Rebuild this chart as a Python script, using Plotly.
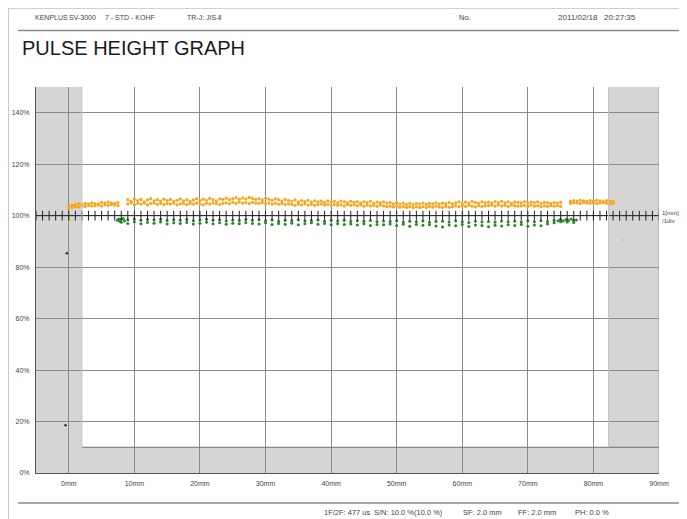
import plotly.graph_objects as go

# ---------------- data ----------------
x_tick_vals = [0, 10, 20, 30, 40, 50, 60, 70, 80, 90]
x_tick_text = ["0mm", "10mm", "20mm", "30mm", "40mm", "50mm", "60mm", "70mm", "80mm", "90mm"]
y_tick_vals = [0, 20, 40, 60, 80, 100, 120, 140]
y_tick_text = ["0%", "20%", "40%", "60%", "80%", "100%", "120%", "140%"]

# orange (1st pulse) segment A: 0.0 .. 7.5 mm, step 0.5
orangeA_start, orangeA_step = 0.0, 0.5
orangeA_hi = [103.8, 104.0, 104.3, 104.6, 104.4, 104.8, 104.5, 105.0, 104.7, 104.6, 105.2, 104.9, 105.3, 105.0, 104.8, 105.1]
orangeA_lo = [102.8, 103.2, 103.5, 103.4, 103.7, 103.6, 104.0, 103.8, 103.9, 104.1, 103.8, 104.2, 104.0, 104.3, 104.1, 103.9]

# segment B: 9.0 .. 75.0 mm, step 0.5
orangeB_start, orangeB_step = 9.0, 0.5
orangeB_hi = [106.2, 105.6, 106.5, 105.9, 106.3, 105.4, 106.1, 106.6, 105.8, 106.2,
              105.7, 106.4, 105.9, 106.3, 105.5, 106.0, 106.5, 105.8, 106.2, 105.6,
              106.1, 106.6, 105.9, 106.4, 106.0, 106.7, 106.2, 105.8, 106.5, 106.3,
              106.8, 106.2, 106.6, 107.0, 106.4, 106.9, 106.5, 107.1, 106.7, 106.3,
              106.6, 106.1, 106.8, 106.4, 106.0, 106.5, 106.2, 105.7, 106.3, 105.9,
              105.6, 106.1, 105.4, 105.9, 105.5, 106.0, 105.3, 105.8, 105.4, 105.7,
              105.2, 105.8, 105.3, 105.6, 105.1, 105.7, 105.4, 105.0, 105.6, 105.2,
              105.5, 104.9, 105.4, 105.1, 105.6, 104.8, 105.3, 105.0, 105.4, 104.9,
              105.1, 104.6, 105.0, 104.5, 104.9, 104.4, 104.8, 104.3, 104.7, 104.5,
              104.9, 104.4, 104.8, 104.6, 105.0, 104.5, 104.9, 104.7, 105.1, 104.6,
              105.0, 105.4, 104.8, 105.3, 104.9, 105.5, 105.1, 104.8, 105.4, 105.0,
              105.3, 104.9, 105.5, 105.1, 105.6, 105.0, 105.4, 104.8, 105.3, 105.2,
              105.0, 105.5, 104.9, 105.3, 105.1, 105.4, 104.8, 105.2, 105.0, 104.7,
              105.1, 104.9, 105.2]
orangeB_lo = [104.6, 105.0, 104.3, 104.8, 104.5, 104.9, 104.2, 104.7, 104.9, 104.4,
              104.8, 104.3, 104.7, 104.5, 104.9, 104.2, 104.6, 104.8, 104.3, 104.7,
              104.5, 104.9, 104.6, 104.2, 104.8, 104.5, 104.9, 104.7, 104.3, 104.8,
              105.0, 104.6, 105.2, 104.8, 105.3, 104.9, 105.1, 104.7, 105.2, 104.9,
              104.8, 105.1, 104.6, 104.9, 104.5, 104.8, 104.4, 104.7, 104.3, 104.6,
              104.4, 104.0, 104.5, 104.2, 104.6, 104.1, 104.4, 104.0, 104.3, 104.5,
              104.1, 104.4, 103.9, 104.3, 104.0, 104.2, 103.8, 104.3, 104.0, 104.2,
              103.9, 104.2, 103.7, 104.1, 103.8, 104.0, 103.6, 104.1, 103.8, 103.5,
              103.7, 103.4, 103.8, 103.3, 103.6, 103.2, 103.5, 103.1, 103.4, 103.2,
              103.5, 103.2, 103.6, 103.3, 103.7, 103.4, 103.2, 103.6, 103.3, 103.5,
              103.8, 103.5, 103.9, 103.6, 104.0, 103.7, 103.4, 103.9, 103.6, 103.8,
              103.9, 104.1, 103.7, 104.2, 103.8, 104.0, 103.6, 104.1, 103.9, 103.7,
              103.8, 104.0, 103.6, 104.1, 103.7, 103.9, 103.5, 103.8, 103.6, 103.9,
              103.7, 103.9, 103.6]

# segment C: 76.5 .. 83.0 mm, step 0.5
orangeC_start, orangeC_step = 76.5, 0.5
orangeC_hi = [105.6, 105.9, 105.7, 106.0, 105.8, 105.6, 105.9, 105.7, 106.0, 105.8, 105.5, 105.9, 105.7, 105.6]
orangeC_lo = [104.8, 105.0, 104.9, 104.7, 105.1, 104.9, 104.8, 105.0, 104.7, 104.9, 105.0, 104.8, 104.6, 104.8]

# stray orange points
orange_extra_x = [0.0, 0.1, 84.5]
orange_extra_y = [100.3, 97.5, 90.5]

# green (2nd pulse): 8 .. 77 mm, step 1
green_start, green_step = 8.0, 1.0
green_hi = [98.6, 98.4, 98.7, 98.2, 98.5, 98.3, 98.6, 98.1, 98.4, 98.2,
            98.5, 98.0, 98.3, 98.6, 98.2, 98.4, 97.9, 98.3, 98.1, 98.5,
            98.2, 98.4, 98.0, 98.3, 97.8, 98.2, 98.0, 98.4, 97.9, 98.1,
            98.3, 97.8, 98.1, 97.9, 98.2, 97.7, 98.0, 97.8, 98.1, 97.6,
            97.9, 97.7, 98.0, 97.5, 97.8, 97.6, 97.9, 97.4, 97.7, 97.8,
            97.5, 97.9, 97.6, 97.3, 97.8, 97.5, 97.7, 97.4, 97.9, 97.6,
            97.8, 97.5, 97.9, 97.6, 98.0, 97.7, 98.1, 98.3, 98.4, 98.2]
green_lo = [97.4, 97.0, 97.6, 96.9, 97.3, 97.1, 97.5, 96.8, 97.2, 97.0,
            97.3, 96.8, 97.1, 97.4, 96.9, 97.2, 96.7, 97.1, 96.9, 97.3,
            97.0, 96.8, 97.2, 96.6, 97.0, 96.7, 97.1, 96.5, 96.9, 97.2,
            96.7, 97.0, 96.5, 96.9, 96.6, 96.8, 96.4, 96.9, 96.2, 96.6,
            96.5, 96.8, 96.2, 96.7, 95.9, 96.6, 96.3, 96.5, 96.0, 95.6,
            96.4, 96.1, 96.6, 95.8, 96.4, 96.2, 95.7, 96.3, 96.0, 96.5,
            96.2, 96.6, 95.9, 96.4, 96.1, 96.8, 97.2, 97.6, 97.5, 97.3]
# dense green clusters at start and end
green_extra_x = [7.4, 7.6, 7.8, 8.3, 8.5, 74.6, 75.0, 75.4, 75.8, 76.2, 76.6, 77.0, 77.4]
green_extra_y = [98.2, 98.7, 97.8, 98.9, 97.9, 98.0, 98.6, 97.9, 98.4, 98.1, 98.7, 98.0, 98.3]

# dark stray points near 0 mm
dark_x = [-0.3, -0.5]
dark_y = [85.4, 18.6]

# 100 % reference line with 1 mm divisions
div_x = list(range(-5, 91))

# header / footer fields
header_parts = ["KENPLUS", "SV-3000", "7 - STD - KOHF", "TR-J: JIS-Ⅱ"]
footer_parts = ["1F/2F: 477 us", "S/N: 10.0 %(10.0 %)", "SF: 2.0 mm", "FF: 2.0 mm", "PH: 0.0 %"]

# ---------------- layout geometry ----------------
# the page body adds an 8px offset; design in reference pixels and shift
OFF = 8
W, H = 687 - OFF, 519 - OFF
RPL, RPR, RPT, RPB = 36, 659, 87, 473          # plot area in reference pixels
PL, PR, PT, PB = RPL - OFF, RPR - OFF, RPT - OFF, RPB - OFF


def px(x):
    return (x - RPL) / (RPR - RPL)


def py(y):
    return (RPB - y) / (RPB - RPT)


def expand(start, step, vals):
    return [start + i * step for i in range(len(vals))]


ORANGE = "#F7A61C"
GREEN = "#2A862A"
FONT = "Liberation Sans, Arial, sans-serif"

fig = go.Figure()

for start, step, hi, lo in [
    (orangeA_start, orangeA_step, orangeA_hi, orangeA_lo),
    (orangeB_start, orangeB_step, orangeB_hi, orangeB_lo),
    (orangeC_start, orangeC_step, orangeC_hi, orangeC_lo),
]:
    xs = expand(start, step, hi)
    fig.add_trace(go.Scatter(x=xs + xs, y=hi + lo, mode="markers",
                             marker=dict(color=ORANGE, size=3.2, line=dict(width=0)),
                             hoverinfo="skip", showlegend=False))

fig.add_trace(go.Scatter(x=orange_extra_x, y=orange_extra_y, mode="markers",
                         marker=dict(color="#F3C64A", size=2.5), showlegend=False))

gx = expand(green_start, green_step, green_hi)
fig.add_trace(go.Scatter(x=gx + gx + green_extra_x, y=green_hi + green_lo + green_extra_y,
                         mode="markers",
                         marker=dict(color=GREEN, size=3, line=dict(width=0)),
                         showlegend=False))

fig.add_trace(go.Scatter(x=dark_x, y=dark_y, mode="markers",
                         marker=dict(color="#333333", size=2.5), showlegend=False))

# 100% line with division ticks
fig.add_trace(go.Scatter(x=div_x, y=[100] * len(div_x), mode="lines+markers",
                         line=dict(color="#222222", width=1),
                         marker=dict(symbol="line-ns", size=7,
                                     line=dict(color="#222222", width=1)),
                         showlegend=False, hoverinfo="skip"))

shapes = []
GRAY = "#D5D5D5"
# gray regions
shapes.append(dict(type="rect", xref="x", yref="y", x0=-5, x1=2, y0=0, y1=150,
                   fillcolor=GRAY, line=dict(width=0), layer="below"))
shapes.append(dict(type="rect", xref="x", yref="y", x0=82.3, x1=90, y0=0, y1=150,
                   fillcolor=GRAY, line=dict(width=0), layer="below"))
shapes.append(dict(type="rect", xref="x", yref="y", x0=-5, x1=90, y0=0, y1=10,
                   fillcolor=GRAY, line=dict(width=0), layer="below"))
# edges of gray regions
shapes.append(dict(type="line", xref="x", yref="y", x0=2, x1=90, y0=10, y1=10,
                   line=dict(color="#6f6f6f", width=1)))
shapes.append(dict(type="line", xref="x", yref="y", x0=2, x1=2, y0=10, y1=150,
                   line=dict(color="#c4c4c4", width=1)))
shapes.append(dict(type="line", xref="x", yref="y", x0=82.3, x1=82.3, y0=10, y1=150,
                   line=dict(color="#c4c4c4", width=1)))
shapes.append(dict(type="line", xref="x", yref="y", x0=90, x1=90, y0=0, y1=150,
                   line=dict(color="#9a9a9a", width=1)))


def hline(y, x0, x1, color, width):
    shapes.append(dict(type="line", xref="paper", yref="paper",
                       x0=px(x0), x1=px(x1), y0=py(y), y1=py(y),
                       line=dict(color=color, width=width)))


def vline(x, y0, y1, color, width):
    shapes.append(dict(type="line", xref="paper", yref="paper",
                       x0=px(x), x1=px(x), y0=py(y0), y1=py(y1),
                       line=dict(color=color, width=width)))


hline(8.5, 8, 687, "#d0d0d0", 1)
vline(8.5, 8, 519, "#c8c8c8", 1)
hline(30.5, 18, 687, "#8a8a8a", 1.5)
hline(503, 18, 687, "#8a8a8a", 1.5)

annotations = []


def text(x, y, s, size, color="#454545", xanchor="left"):
    annotations.append(dict(x=px(x), y=py(y), xref="paper", yref="paper", text=s,
                            showarrow=False, xanchor=xanchor, yanchor="middle",
                            font=dict(size=size, color=color, family=FONT)))


for hx, part in zip([33, 67, 103, 185], header_parts):
    text(hx, 17, part, 7)
text(457, 17, "No.", 7.5)
text(556, 17, "2011/02/18   20:27:35", 8)
text(20, 48, "PULSE HEIGHT GRAPH", 20, color="#1a1a1a")
text(660, 213, "1[mm]", 6)
text(660, 221, "/1div", 6)
for fx, part in zip([322, 372, 461, 516, 573], footer_parts):
    text(fx, 513, part, 7.5)

fig.update_layout(
    width=W, height=H,
    margin=dict(l=PL, r=W - PR, t=PT, b=H - PB, pad=0, autoexpand=False),
    paper_bgcolor="white", plot_bgcolor="white",
    shapes=shapes, annotations=annotations,
    showlegend=False,
    xaxis=dict(range=[-5, 90], tickvals=x_tick_vals, ticktext=x_tick_text,
               showgrid=True, gridcolor="#8a8a8a", gridwidth=1, automargin=False,
               zeroline=False, showline=True, linecolor="#555555", linewidth=1,
               mirror=False, ticks="", ticklabelstandoff=4,
               tickfont=dict(size=7, color="#454545", family=FONT)),
    yaxis=dict(range=[0, 150], tickvals=y_tick_vals, ticktext=y_tick_text,
               showgrid=True, gridcolor="#8a8a8a", gridwidth=1, automargin=False,
               zeroline=False, showline=True, linecolor="#555555", linewidth=1,
               mirror=False, ticks="", ticklabelstandoff=4,
               tickfont=dict(size=7, color="#454545", family=FONT)),
)

fig.write_html("out.html")
